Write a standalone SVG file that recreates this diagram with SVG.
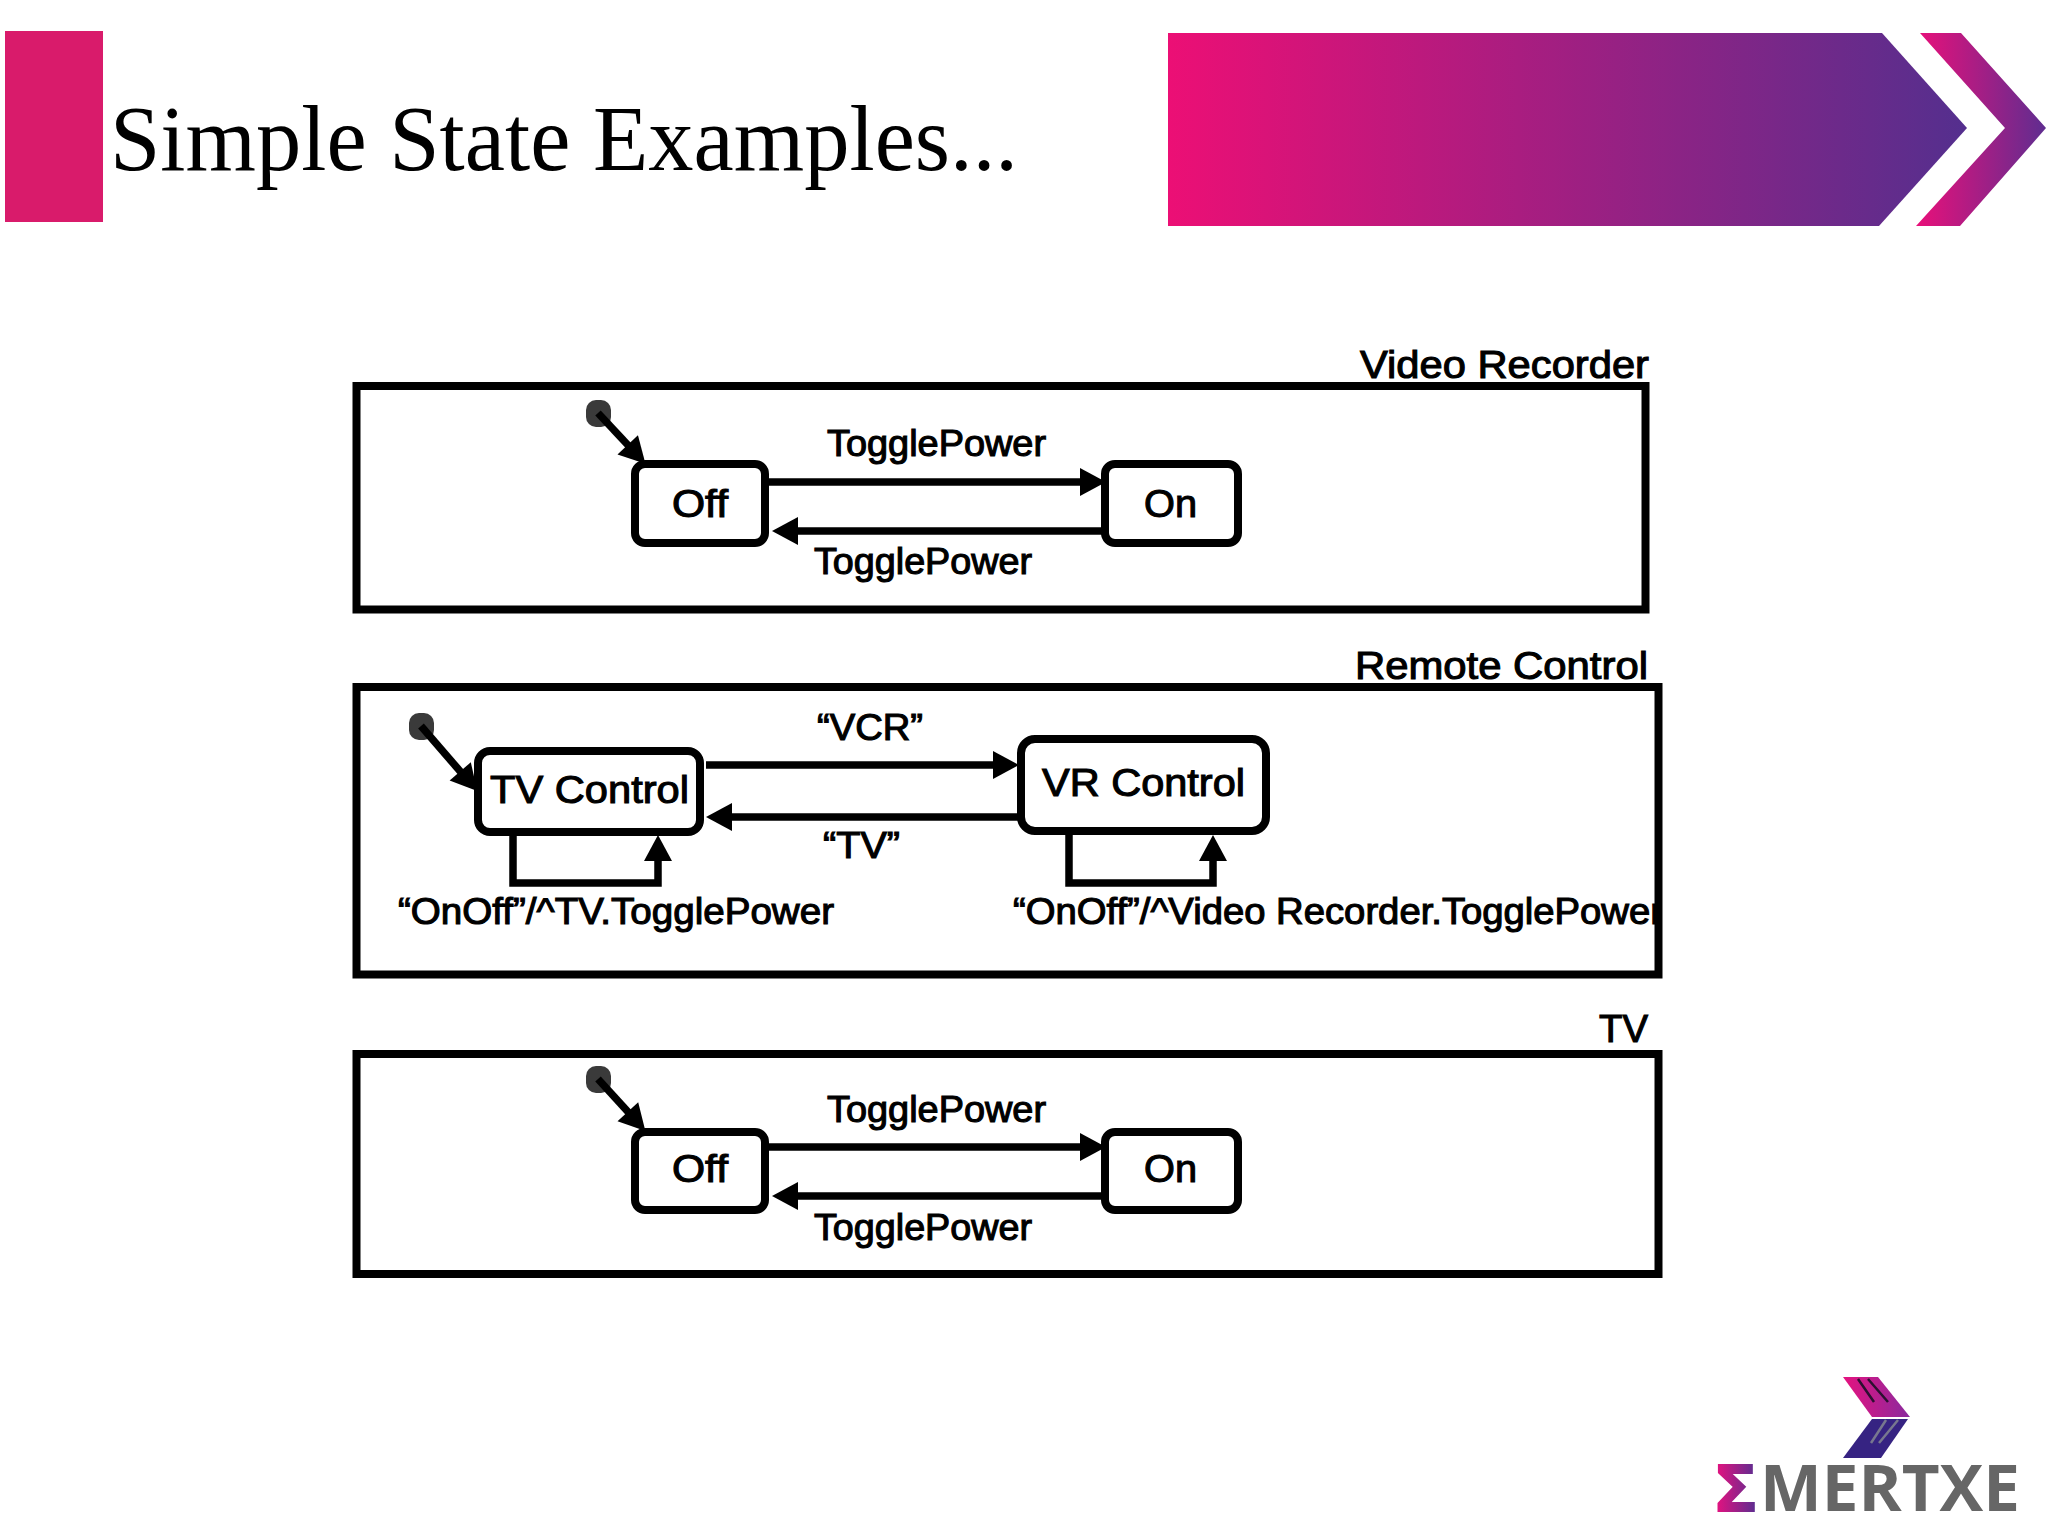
<svg xmlns="http://www.w3.org/2000/svg" width="2048" height="1536" viewBox="0 0 2048 1536">
<style>
.frame{fill:none;stroke:#000;stroke-width:8}
.box{fill:#fff;stroke:#000;stroke-width:8}
.dot{fill:#3a3a3a}
.lbl{font-family:"Liberation Sans",Arial,sans-serif;font-size:36px;fill:#000;stroke:#000;stroke-width:1.1}
.big{font-size:39px}
.title{font-family:"Liberation Serif","Times New Roman",serif;font-size:93px;fill:#000}
.wire{fill:none;stroke:#000;stroke-width:7.5;marker-end:url(#arrow)}
.logo{font-family:"Open Sans",sans-serif;font-weight:700;font-size:64px;fill:#666}
</style>
<defs>
<marker id="arrow" markerUnits="userSpaceOnUse" markerWidth="30" markerHeight="32" viewBox="0 0 30 32" refX="20" refY="16" orient="auto">
<path d="M2 2L28 16L2 30Z" fill="#000"/>
</marker>
<linearGradient id="banner" x1="0" x2="1" y1="0" y2="0"><stop offset="0" stop-color="#ec0f75"/><stop offset="1" stop-color="#542f8e"/></linearGradient>
<linearGradient id="chev" gradientUnits="userSpaceOnUse" x1="1916" x2="2046" y1="0" y2="0"><stop offset="0" stop-color="#e9107a"/><stop offset="1" stop-color="#5f2d90"/></linearGradient>
<linearGradient id="logoTop" gradientUnits="userSpaceOnUse" x1="1843" x2="1910" y1="0" y2="0"><stop offset="0" stop-color="#e5127f"/><stop offset="1" stop-color="#8a2a9e"/></linearGradient>
<linearGradient id="sigma" gradientUnits="userSpaceOnUse" x1="1716" x2="1755" y1="0" y2="0"><stop offset="0" stop-color="#e5127f"/><stop offset="1" stop-color="#5f2d90"/></linearGradient>
<clipPath id="remoteClip"><rect x="353" y="683" width="1302" height="296"/></clipPath>
</defs>
<rect width="2048" height="1536" fill="#fff"/>

<g id="header">
<rect x="5" y="31" width="98" height="191" fill="#d91b6b"/>
<text class="title" x="110" y="170" textLength="908" lengthAdjust="spacingAndGlyphs">Simple State Examples...</text>
<path d="M1168 33H1882L1967 128L1879 226H1168Z" fill="url(#banner)"/>
<path d="M1920 33H1961L2046 128L1960 226H1916L2005 128Z" fill="url(#chev)"/>
</g>

<g id="video-recorder">
<rect class="frame" x="356.5" y="386" width="1289" height="223.5"/>
<text class="lbl big" x="1360" y="378" textLength="289" lengthAdjust="spacingAndGlyphs">Video Recorder</text>
</g>
<g id="vr-init"><rect class="dot" x="586" y="400" width="25" height="27" rx="10"/></g>
<g id="vr-off"><rect class="box" x="635" y="464" width="130" height="79" rx="10"/><text class="lbl big" x="672" y="517" textLength="56" lengthAdjust="spacingAndGlyphs">Off</text></g>
<g id="vr-on"><rect class="box" x="1105" y="464" width="133" height="79" rx="10"/><text class="lbl big" x="1144" y="517" textLength="53" lengthAdjust="spacingAndGlyphs">On</text></g>

<g id="remote-control">
<rect class="frame" x="356.5" y="687" width="1302" height="287.5"/>
<text class="lbl big" x="1355" y="679" textLength="293" lengthAdjust="spacingAndGlyphs">Remote Control</text>
</g>
<g id="rc-init"><rect class="dot" x="409" y="713" width="25" height="27" rx="10"/></g>
<g id="rc-tv"><rect class="box" x="478" y="751" width="222" height="81" rx="12"/><text class="lbl big" x="490" y="803" textLength="199" lengthAdjust="spacingAndGlyphs">TV Control</text></g>
<g id="rc-vr"><rect class="box" x="1021" y="739" width="245" height="92" rx="14"/><text class="lbl big" x="1042" y="796" textLength="203" lengthAdjust="spacingAndGlyphs">VR Control</text></g>

<g id="tv">
<rect class="frame" x="356.5" y="1054" width="1302" height="220"/>
<text class="lbl big" x="1599" y="1042" textLength="49" lengthAdjust="spacingAndGlyphs">TV</text>
</g>
<g id="tv-init"><rect class="dot" x="586" y="1066" width="25" height="27" rx="10"/></g>
<g id="tv-off"><rect class="box" x="635" y="1132" width="130" height="78" rx="10"/><text class="lbl big" x="672" y="1182" textLength="56" lengthAdjust="spacingAndGlyphs">Off</text></g>
<g id="tv-on"><rect class="box" x="1105" y="1132" width="133" height="78" rx="10"/><text class="lbl big" x="1144" y="1182" textLength="53" lengthAdjust="spacingAndGlyphs">On</text></g>

<g id="connectors">
<path class="wire" d="M598 413L640 458"/>
<path class="wire" d="M767 482H1098"/>
<path class="wire" d="M1102 531H780"/>
<path class="wire" d="M421 726L472 785"/>
<path class="wire" d="M706 765H1011"/>
<path class="wire" d="M1018 817H714"/>
<path class="wire" d="M513 835V883H658V843"/>
<path class="wire" d="M1069 835V883H1213V843"/>
<path class="wire" d="M598 1079L640 1125"/>
<path class="wire" d="M767 1147H1098"/>
<path class="wire" d="M1102 1196H780"/>
</g>

<g id="labels">
<text class="lbl" x="827" y="456" textLength="219" lengthAdjust="spacingAndGlyphs">TogglePower</text>
<text class="lbl" x="814" y="574" textLength="218" lengthAdjust="spacingAndGlyphs">TogglePower</text>
<text class="lbl" x="817" y="740" textLength="106" lengthAdjust="spacingAndGlyphs">“VCR”</text>
<text class="lbl" x="823" y="858" textLength="77" lengthAdjust="spacingAndGlyphs">“TV”</text>
<text class="lbl" x="398" y="924" textLength="436" lengthAdjust="spacingAndGlyphs">“OnOff”/^TV.TogglePower</text>
<text class="lbl" x="1013" y="924" textLength="650" lengthAdjust="spacingAndGlyphs" clip-path="url(#remoteClip)">“OnOff”/^Video Recorder.TogglePower</text>
<text class="lbl" x="827" y="1122" textLength="219" lengthAdjust="spacingAndGlyphs">TogglePower</text>
<text class="lbl" x="814" y="1240" textLength="218" lengthAdjust="spacingAndGlyphs">TogglePower</text>
</g>

<g id="logo">
<path d="M1843 1377H1878L1910 1417H1872Z" fill="url(#logoTop)"/>
<path d="M1872 1419H1908L1881 1458H1843Z" fill="#362382"/>
<path d="M1858 1379L1874 1402M1868 1379L1888 1402" stroke="#2b1030" stroke-width="2.5" fill="none"/>
<path d="M1886 1420L1871 1443M1898 1420L1879 1443" stroke="#77778f" stroke-width="2.5" fill="none"/>
<text class="logo" x="1716" y="1511" textLength="40" lengthAdjust="spacingAndGlyphs" style="fill:url(#sigma);stroke:url(#sigma);stroke-width:2">Σ</text>
<text class="logo" x="1760" y="1511" textLength="260" lengthAdjust="spacingAndGlyphs">MERTXE</text>
</g>
</svg>
